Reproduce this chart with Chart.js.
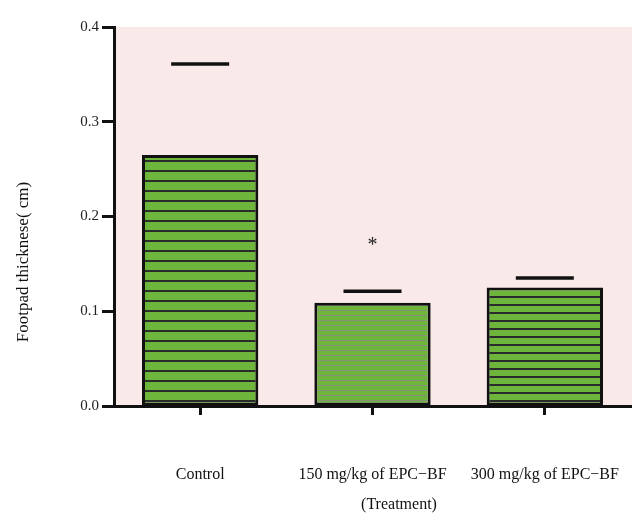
<!DOCTYPE html>
<html>
<head>
<meta charset="utf-8">
<script src="https://cdn.jsdelivr.net/npm/chart.js@4"></script>
<style>
html,body{margin:0;padding:0;background:#fff;}
#wrap{width:632px;height:513px;position:relative;}
</style>
</head>
<body>
<div id="wrap"><canvas id="c" width="632" height="513"></canvas></div>
<script>
// ---- data ----
const categories = ["Control", "150 mg/kg of EPC\u2212BF", "300 mg/kg of EPC\u2212BF"];
const meanValues = [0.265, 0.109, 0.125];
const errorTop = [0.361, 0.121, 0.135];
const yTicks = [0.0, 0.1, 0.2, 0.3, 0.4];
const yTitle = "Footpad thicknese( cm)";
const xTitle = "(Treatment)";
const sigMarks = ["", "*", ""];

// ---- stripe patterns ----
function stripePattern(spacing, lineColor, lineW, bg) {
  const c = document.createElement('canvas');
  c.width = 8; c.height = spacing;
  const g = c.getContext('2d');
  g.fillStyle = bg; g.fillRect(0, 0, 8, spacing);
  g.fillStyle = lineColor; g.fillRect(0, 0, 8, lineW);
  return g.createPattern(c, 'repeat');
}
const green = '#6db63b';
const patterns = [
  stripePattern(10, '#2b2b2b', 2, green),
  stripePattern(5, '#8a8f7a', 1, green),
  stripePattern(8, '#2b2b2b', 2, green)
];

const serif = "'Liberation Serif', 'DejaVu Serif', serif";

const decor = {
  id: 'decor',
  beforeDraw(chart) {
    const {ctx, chartArea: a} = chart;
    ctx.save();
    ctx.fillStyle = '#f9e9e9';
    ctx.fillRect(a.left, a.top, chart.width - a.left, a.bottom - a.top);
    ctx.restore();
  },
  afterDatasetsDraw(chart) {
    const {ctx} = chart;
    const x = chart.scales.x, y = chart.scales.y;
    ctx.save();
    ctx.strokeStyle = '#111';
    ctx.lineWidth = 3.5;
    errorTop.forEach((v, i) => {
      const cx = x.getPixelForValue(i);
      const py = y.getPixelForValue(v);
      ctx.beginPath();
      ctx.moveTo(cx - 29, py);
      ctx.lineTo(cx + 29, py);
      ctx.stroke();
    });
    ctx.fillStyle = '#222';
    ctx.font = "20px " + serif;
    ctx.textAlign = 'center';
    ctx.textBaseline = 'middle';
    sigMarks.forEach((m, i) => {
      if (!m) return;
      const cx = x.getPixelForValue(i);
      ctx.fillText(m, cx, y.getPixelForValue(errorTop[i]) - 46);
    });
    // axis titles
    ctx.fillStyle = '#111';
    ctx.font = "17px " + serif;
    ctx.save();
    ctx.translate(24, 262);
    ctx.rotate(-Math.PI / 2);
    ctx.fillText(yTitle, 0, 0);
    ctx.restore();
    ctx.font = "16px " + serif;
    ctx.fillText(xTitle, 399, 505);
    ctx.restore();
  }
};

new Chart(document.getElementById('c'), {
  type: 'bar',
  data: {
    labels: categories,
    datasets: [{
      data: meanValues,
      backgroundColor: patterns,
      borderColor: '#111',
      borderWidth: 3,
      borderSkipped: false,
      barPercentage: 0.675,
      categoryPercentage: 1.0
    }]
  },
  options: {
    responsive: false,
    animation: false,
    devicePixelRatio: 1,
    layout: {padding: {top: 27, right: 1, left: 0, bottom: 0}},
    plugins: {legend: {display: false}, tooltip: {enabled: false}},
    scales: {
      x: {
        grid: {display: true, drawOnChartArea: false, drawTicks: true, offset: false,
               tickLength: 9, tickWidth: 3, tickColor: '#111'},
        border: {display: true, color: '#111', width: 3},
        ticks: {color: '#111', font: {family: serif, size: 16}, padding: 50, maxRotation: 0, autoSkip: false},
        afterFit(s) { s.height = 107; s.paddingLeft = 0; s.paddingRight = 0; }
      },
      y: {
        min: 0, max: 0.4,
        afterBuildTicks(s) { s.ticks = yTicks.map(v => ({value: v})); },
        grid: {display: true, drawOnChartArea: false, drawTicks: true,
               tickLength: 12, tickWidth: 3, tickColor: '#111'},
        border: {display: true, color: '#111', width: 3},
        ticks: {color: '#222', font: {family: serif, size: 15}, padding: 3,
                callback: v => Number(v).toFixed(1)},
        afterFit(s) { s.width = 114; }
      }
    }
  },
  plugins: [decor]
});
</script>
</body>
</html>
